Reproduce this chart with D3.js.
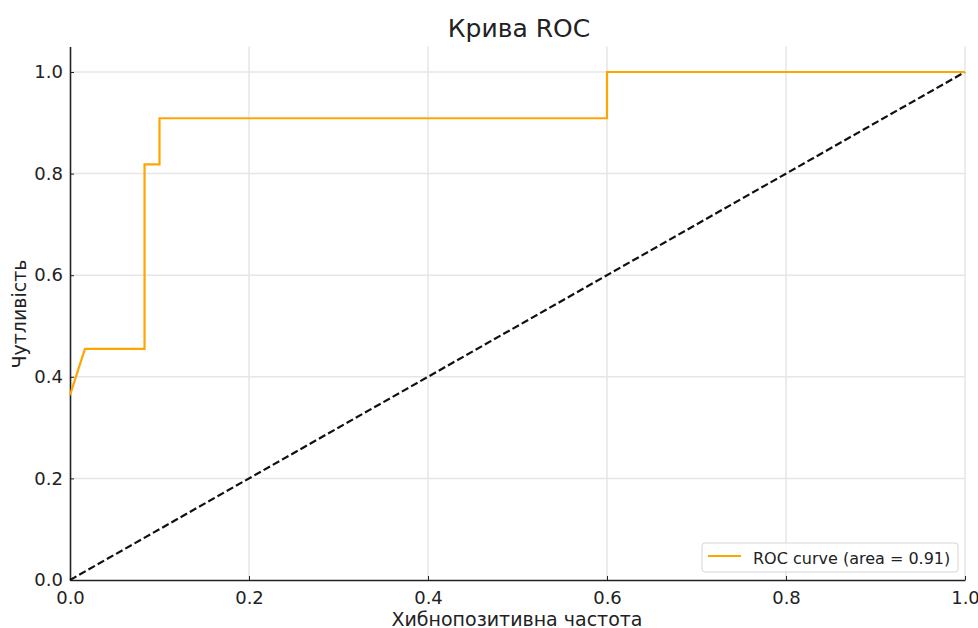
<!DOCTYPE html>
<html><head><meta charset="utf-8">
<script src="https://cdn.jsdelivr.net/npm/d3@7"></script>
<style>body{margin:0;background:#fff}svg{display:block}text{font-family:"DejaVu Sans",sans-serif;fill:#222}</style>
</head><body><svg id="c" width="978" height="628"></svg>
<script>
const fpr = [0, 0.0167, 0.0833, 0.0833, 0.1, 0.1, 0.6, 0.6, 1.0];
const tpr = [0.364, 0.455, 0.455, 0.818, 0.818, 0.909, 0.909, 1.0, 1.0];
const diagX = [0, 1];
const diagY = [0, 1];
const xTicks = [0, 0.2, 0.4, 0.6, 0.8, 1.0];
const yTicks = [0, 0.2, 0.4, 0.6, 0.8, 1.0];
const title = "Крива ROC";
const xLabel = "Хибнопозитивна частота";
const yLabel = "Чутливість";
const legendLabel = "ROC curve (area = 0.91)";

const svg = d3.select("#c");
const L = 70, R = 965, T = 46.6, B = 580;
const x = d3.scaleLinear().domain([0, 1]).range([L, R]);
const y = d3.scaleLinear().domain([0, 1.05]).range([B, T]);

// grid
svg.append("g").selectAll("line").data(xTicks.slice(1)).join("line")
  .attr("x1", d => x(d)).attr("x2", d => x(d)).attr("y1", T).attr("y2", B)
  .attr("stroke", "#e6e6e6").attr("stroke-width", 1.5);
svg.append("g").selectAll("line").data(yTicks.slice(1)).join("line")
  .attr("x1", L).attr("x2", R).attr("y1", d => y(d)).attr("y2", d => y(d))
  .attr("stroke", "#e6e6e6").attr("stroke-width", 1.5);

// axes
const fmt = d3.format(".1f");
const xa = svg.append("g").attr("transform", `translate(0,${B})`)
  .call(d3.axisBottom(x).tickValues(xTicks).tickFormat(fmt).tickSizeInner(-4).tickSizeOuter(0).tickPadding(10));
const ya = svg.append("g").attr("transform", `translate(${L},0)`)
  .call(d3.axisLeft(y).tickValues(yTicks).tickFormat(fmt).tickSizeInner(-4).tickSizeOuter(0).tickPadding(7));
[xa, ya].forEach(a => {
  a.select(".domain").attr("stroke", "#222").attr("stroke-width", 1.6);
  a.selectAll(".tick line").attr("stroke", "#222").attr("stroke-width", 1);
  a.selectAll(".tick text").attr("font-size", 18).attr("fill", "#222").style("font-family", "DejaVu Sans");
});
xa.selectAll(".tick text").attr("y", 24).attr("dy", 0);

// diagonal
svg.append("path")
  .datum(diagX.map((d, i) => [d, diagY[i]]))
  .attr("d", d3.line().x(d => x(d[0])).y(d => y(d[1])))
  .attr("fill", "none").attr("stroke", "#111").attr("stroke-width", 2.2)
  .attr("stroke-dasharray", "7.4,3.2");

// roc
svg.append("path")
  .datum(fpr.map((d, i) => [d, tpr[i]]))
  .attr("d", d3.line().x(d => x(d[0])).y(d => y(d[1])))
  .attr("fill", "none").attr("stroke", "#FFA500").attr("stroke-width", 2.2)
  .attr("stroke-linejoin", "miter");

// title & labels
svg.append("text").attr("x", 519).attr("y", 37).attr("text-anchor", "middle")
  .attr("font-size", 25).text(title);
svg.append("text").attr("x", 517).attr("y", 626).attr("text-anchor", "middle")
  .attr("font-size", 19).text(xLabel);
svg.append("text").attr("transform", `translate(26,314) rotate(-90)`)
  .attr("text-anchor", "middle").attr("font-size", 19).text(yLabel);

// legend
const lg = svg.append("g");
lg.append("rect").attr("x", 702).attr("y", 543).attr("width", 256).attr("height", 29)
  .attr("rx", 3).attr("fill", "#fff").attr("fill-opacity", 0.85).attr("stroke", "#d5d5d5");
lg.append("line").attr("x1", 708).attr("x2", 741).attr("y1", 556).attr("y2", 556)
  .attr("stroke", "#FFA500").attr("stroke-width", 2.2);
lg.append("text").attr("x", 753).attr("y", 564).attr("font-size", 16).text(legendLabel);
</script></body></html>
